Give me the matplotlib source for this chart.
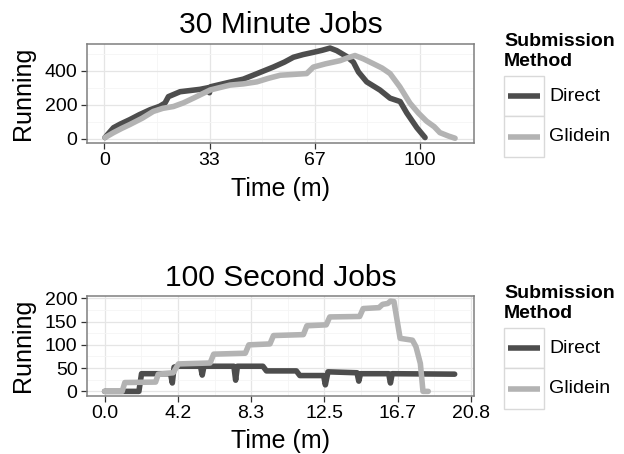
import matplotlib
matplotlib.use("Agg")
import matplotlib.pyplot as plt
from matplotlib.patches import Rectangle
from matplotlib.lines import Line2D

plt.rcParams['font.family'] = ['Liberation Sans', 'DejaVu Sans']

# ---------------- data ----------------
# 30 minute jobs (time in minutes, running jobs)
direct30_t = [0.2, 2.9, 5.0, 8.1, 11.0, 14.5, 17.5, 19.2, 20.3, 24.0, 30.3, 33.0, 33.3, 33.6, 38.8,
              44.0, 48.3, 53.5, 57.0, 59.9, 63.0, 66.2, 69.0, 71.5, 73.6, 76.8, 78.9, 80.5, 83.1,
              87.3, 90.5, 93.7, 95.8, 99.0, 101.6]
direct30_v = [6, 64, 85, 112, 140, 170, 190, 209, 247, 276, 290, 300, 270, 305, 328,
              350, 382, 421, 450, 479, 495, 508, 520, 533, 518, 483, 450, 392, 334,
              286, 238, 218, 151, 64, 6]
glidein30_t = [0.2, 2.9, 5.5, 8.1, 12.0, 15.5, 18.5, 21.9, 25.0, 28.2, 33.5, 36.5, 39.8, 44.0,
               48.3, 52.0, 55.7, 60.0, 64.1, 66.2, 70.0, 74.7, 77.0, 79.4, 82.0, 85.2, 88.0,
               90.5, 93.6, 96.8, 99.5, 102.1, 104.5, 106.3, 109.0, 111.1]
glidein30_v = [6, 35, 60, 83, 120, 160, 178, 189, 210, 238, 286, 300, 315, 322,
               334, 355, 373, 378, 383, 421, 440, 459, 475, 489, 470, 441, 415,
               383, 305, 209, 150, 102, 70, 35, 15, 2]

# 100 second jobs (time in minutes, running jobs)
direct100_t = [0.0, 1.95, 2.1, 3.75, 3.85, 3.95, 4.15, 5.45, 5.55, 5.65, 7.35, 7.45, 7.55,
               9.0, 9.2, 10.9, 11.1, 12.45, 12.55, 12.7, 14.35, 14.45, 14.55, 16.15, 16.25,
               16.35, 19.9]
direct100_v = [0, 0, 38, 38, 18, 52, 54, 54, 35, 54, 54, 24, 54,
               54, 44, 44, 34, 34, 14, 42, 40, 22, 38, 38, 18,
               38, 37]
glidein100_t = [0.0, 1.0, 1.15, 2.9, 3.05, 3.9, 4.2, 6.0, 6.2, 8.0, 8.2, 9.4, 9.6, 11.3, 11.5,
                12.6, 12.8, 14.5, 14.7, 15.6, 15.8, 16.1, 16.25, 16.45, 16.8, 17.5, 17.7,
                17.95, 18.1, 18.4]
glidein100_v = [0, 0, 19, 20, 37, 40, 59, 61, 80, 82, 100, 102, 120, 122, 141,
                143, 160, 161, 178, 180, 187, 189, 194, 193, 114, 110, 96,
                60, 0, 0]

series_names = ['Direct', 'Glidein']
series_colors = ['#4D4D4D', '#B3B3B3']

x_ticks_30 = [0, 100 / 3, 200 / 3, 100]
x_ticklabels_30 = ['0', '33', '67', '100']
y_ticks_30 = [0, 200, 400]
x_ticks_100 = [0, 25 / 6, 50 / 6, 12.5, 100 / 6, 125 / 6]
x_ticklabels_100 = ['0.0', '4.2', '8.3', '12.5', '16.7', '20.8']
y_ticks_100 = [0, 50, 100, 150, 200]

# ---------------- layout helpers ----------------
W, H = 624, 454
fig = plt.figure(figsize=(W / 100, H / 100), dpi=100)
LW = 4.0


def fx(px):
    return px / W


def fy(py):
    return 1 - py / H


def make_axes(left, top, right, bottom):
    return fig.add_axes([fx(left), fy(bottom), fx(right) - fx(left), fy(top) - fy(bottom)])


def style_axes(ax, xt, xtl, yt, xminor, yminor, xlim, ylim):
    ax.set_xlim(*xlim)
    ax.set_ylim(*ylim)
    ax.set_xticks(xt)
    ax.set_xticklabels(xtl)
    ax.set_yticks(yt)
    ax.set_xticks(xminor, minor=True)
    ax.set_yticks(yminor, minor=True)
    ax.grid(which='major', color='#E5E5E5', linewidth=0.9)
    ax.grid(which='minor', color='#F5F5F5', linewidth=0.6)
    ax.set_axisbelow(True)
    for s in ax.spines.values():
        s.set_color('#7F7F7F')
        s.set_linewidth(1.1)
    ax.tick_params(which='major', length=4.3, width=0.9, color='#333333',
                   labelsize=14, labelcolor='black', pad=2.5)
    ax.tick_params(which='minor', length=0)


def legend(top_title):
    fig.text(fx(504), fy(top_title + 15), 'Submission', fontsize=14, fontweight='bold',
             ha='left', va='baseline')
    fig.text(fx(504), fy(top_title + 35.5), 'Method', fontsize=14, fontweight='bold',
             ha='left', va='baseline')
    box_top = top_title + 45
    for i, (name, col) in enumerate(zip(series_names, series_colors)):
        y0 = box_top + i * 40.3
        r = Rectangle((fx(503.5), fy(y0 + 40.3)), fx(40), fy(y0) - fy(y0 + 40.3),
                      transform=fig.transFigure, facecolor='white', edgecolor='#D9D9D9',
                      linewidth=1.0)
        fig.add_artist(r)
        ln = Line2D([fx(508), fx(540)], [fy(y0 + 20.2)] * 2, transform=fig.transFigure,
                    color=col, linewidth=LW, solid_capstyle='butt')
        fig.add_artist(ln)
        fig.text(fx(549), fy(y0 + 20.2), name, fontsize=14, ha='left', va='center')


# ---------------- top panel ----------------
ax1 = make_axes(87, 44, 474, 143)
ax1.plot(direct30_t, direct30_v, color=series_colors[0], linewidth=LW,
         solid_joinstyle='round', solid_capstyle='round')
ax1.plot(glidein30_t, glidein30_v, color=series_colors[1], linewidth=LW,
         solid_joinstyle='round', solid_capstyle='round')
style_axes(ax1, x_ticks_30, x_ticklabels_30, y_ticks_30,
           [50 / 3, 50, 250 / 3], [100, 300, 500], (-5.5, 117.1), (-26, 557))
fig.text(fx(280.5), fy(33), '30 Minute Jobs', fontsize=21.6, ha='center', va='baseline')
fig.text(fx(280.5), fy(196), 'Time (m)', fontsize=18, ha='center', va='baseline')
fig.text(fx(23), fy(93.5), 'Running', fontsize=18, ha='center', va='center', rotation=90)
legend(31)

# ---------------- bottom panel ----------------
ax2 = make_axes(87, 296, 474, 395.7)
ax2.plot(direct100_t, direct100_v, color=series_colors[0], linewidth=LW,
         solid_joinstyle='round', solid_capstyle='round')
ax2.plot(glidein100_t, glidein100_v, color=series_colors[1], linewidth=LW,
         solid_joinstyle='round', solid_capstyle='round')
style_axes(ax2, x_ticks_100, x_ticklabels_100, y_ticks_100,
           [25 / 12, 75 / 12, 125 / 12, 175 / 12, 225 / 12], [25, 75, 125, 175],
           (-1.0, 21.0), (-9.3, 205))
fig.text(fx(281), fy(286), '100 Second Jobs', fontsize=21.6, ha='center', va='baseline')
fig.text(fx(280.5), fy(448), 'Time (m)', fontsize=18, ha='center', va='baseline')
fig.text(fx(23), fy(345.5), 'Running', fontsize=18, ha='center', va='center', rotation=90)
legend(283)

fig.savefig('out.png', dpi=100)
